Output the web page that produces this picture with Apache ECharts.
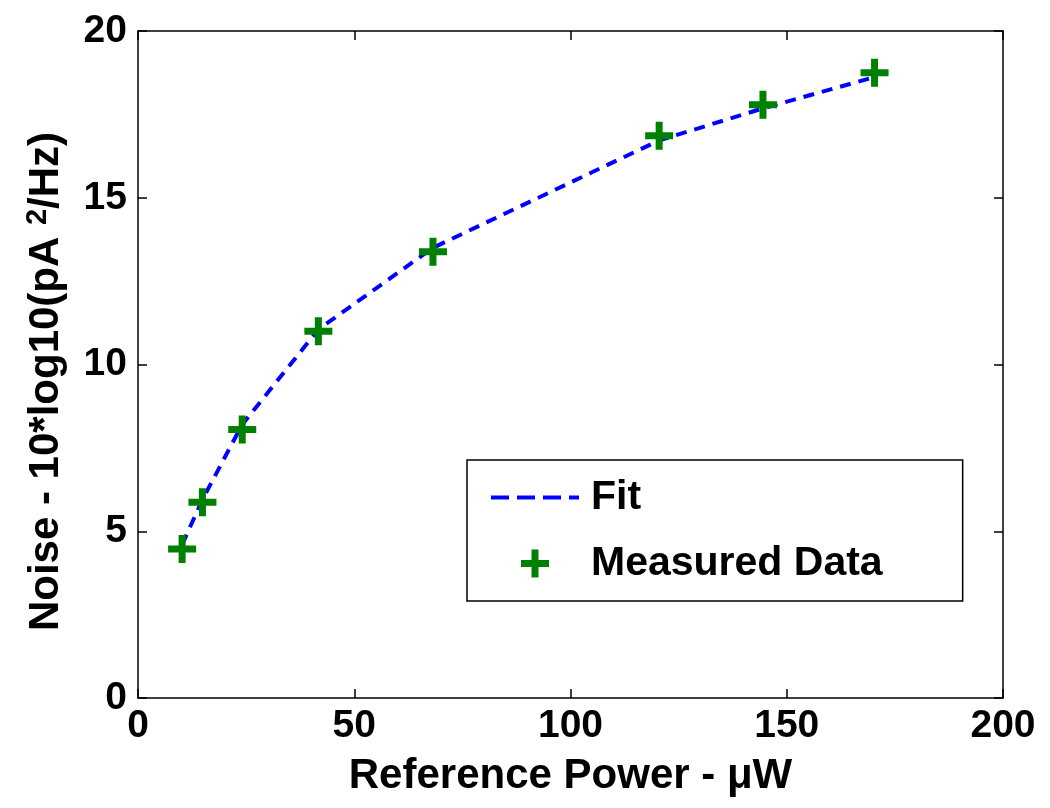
<!DOCTYPE html>
<html><head><meta charset="utf-8">
<script src="https://cdn.jsdelivr.net/npm/echarts@6/dist/echarts.min.js"></script>
<style>html,body{margin:0;padding:0;background:#fff}#c{width:1050px;height:808px}</style>
</head><body><div id="c"></div>
<script>
const measuredX = [10.2, 14.9, 24.1, 41.7, 68.2, 120.5, 144.5, 170.3];
const measuredY = [4.47, 5.87, 8.05, 11.0, 13.38, 16.86, 17.79, 18.75];
const fitX = [10.2, 14.9, 24.1, 41.7, 68.2, 120.5, 144.5, 170.3];
const fitY = [4.6, 5.95, 8.2, 11.05, 13.5, 16.72, 17.68, 18.62];
const xTicks = [0, 50, 100, 150, 200];
const yTicks = [0, 5, 10, 15, 20];

const FONT = 'Liberation Sans';
const plus = 'path://M3,0H5V3H8V5H5V8H3V5H0V3H3Z';
const chart = echarts.init(document.getElementById('c'));
const axisCommon = {
  axisLine: {show: true, onZero: false, lineStyle: {color: '#000', width: 1.5}},
  axisTick: {show: true, inside: true, length: 9, lineStyle: {color: '#000', width: 1.5}},
  splitLine: {show: false}
};
const tickFont = {fontFamily: FONT, fontWeight: 'bold', fontSize: 39, color: '#000'};
chart.setOption({
  animation: false,
  backgroundColor: '#fff',
  grid: {left: 138, right: 47, top: 31, bottom: 110, show: false},
  legend: {
    orient: 'vertical', left: 467, top: 460,
    padding: [17, 80, 17, 22],
    itemGap: 25, itemWidth: 88, itemHeight: 28,
    backgroundColor: '#fff', borderColor: '#000', borderWidth: 1.5,
    textStyle: {fontFamily: FONT, fontWeight: 'bold', fontSize: 41, color: '#000', padding: [0,0,0,7]},
    data: [
      {name: 'Fit', itemStyle: {opacity: 0}, lineStyle: {color: '#0000ff', width: 4, type: [18, 8], opacity: 1}},
      {name: 'Measured Data'}
    ]
  },
  xAxis: [
    Object.assign({type: 'value', min: 0, max: 200, interval: 50, position: 'bottom',
      name: 'Reference Power - \u03bcW', nameLocation: 'middle', nameGap: 57,
      nameTextStyle: {fontFamily: FONT, fontWeight: 'bold', fontSize: 42, color: '#000'},
      axisLabel: Object.assign({margin: 9, formatter: v => xTicks.includes(v) ? String(v) : ''}, tickFont)}, axisCommon),
    Object.assign({type: 'value', min: 0, max: 200, interval: 50, position: 'top',
      axisLabel: {show: false}}, axisCommon)
  ],
  yAxis: [
    Object.assign({type: 'value', min: 0, max: 20, interval: 5, position: 'left',
      name: 'Noise - 10*log10(pA {sup|2}/Hz)', nameLocation: 'middle', nameGap: 68,
      nameTextStyle: {fontFamily: FONT, fontWeight: 'bold', fontSize: 42, color: '#000', padding: [0, 34, 0, 0],
        rich: {sup: {fontFamily: FONT, fontWeight: 'bold', fontSize: 29, color: '#000', verticalAlign: 'top', padding: [0,0,18,0]}}},
      axisLabel: Object.assign({margin: 11, formatter: v => yTicks.includes(v) ? String(v) : ''}, tickFont)}, axisCommon),
    Object.assign({type: 'value', min: 0, max: 20, interval: 5, position: 'right',
      axisLabel: {show: false}}, axisCommon)
  ],
  series: [
    {name: 'Fit', type: 'line', data: fitX.map((x, i) => [x, fitY[i]]),
      symbol: 'none', z: 2,
      lineStyle: {color: '#0000ff', width: 4, type: [11, 8]},
      itemStyle: {color: '#0000ff'}},
    {name: 'Measured Data', type: 'scatter', data: measuredX.map((x, i) => [x, measuredY[i]]),
      symbol: plus, symbolSize: 28, z: 3,
      itemStyle: {color: '#008000', opacity: 1}}
  ]
});
</script></body></html>
